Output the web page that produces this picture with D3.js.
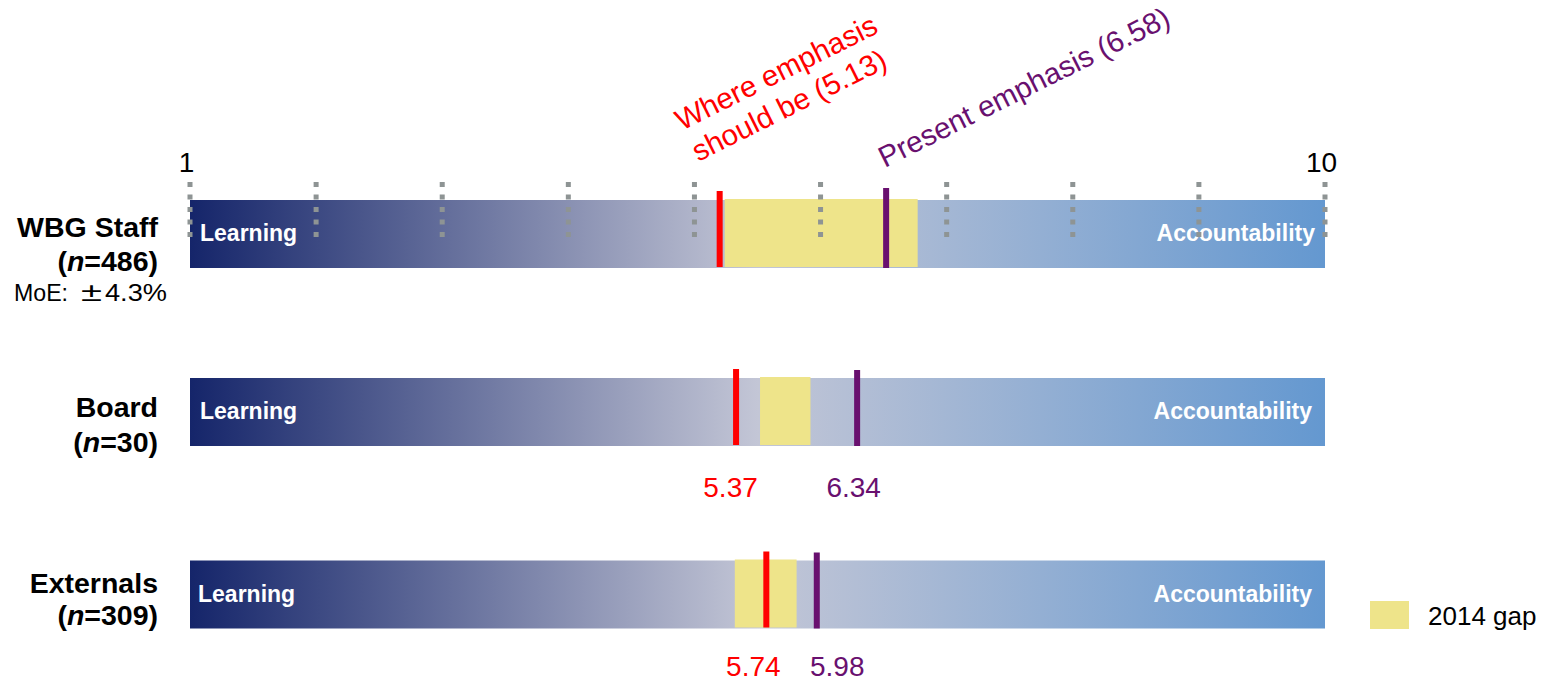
<!DOCTYPE html>
<html>
<head>
<meta charset="utf-8">
<script src="https://cdn.jsdelivr.net/npm/d3@7"></script>
<style>
  html, body { margin: 0; padding: 0; background: #ffffff; }
  svg { display: block; }
  text { font-family: "Liberation Sans", Arial, sans-serif; }
</style>
</head>
<body>
<svg id="chart" width="1543" height="683"></svg>
<script>
// ---------- data ----------
const categories     = ["WBG Staff", "Board", "Externals"];
const sampleSizes    = [486, 30, 309];
const moeText        = "4.3%";
const shouldBe       = [5.20, 5.33, 5.57];   // red marker positions
const presentEmph    = [6.52, 6.29, 5.97];   // purple marker positions
const shouldLabels   = ["5.13", "5.37", "5.74"];
const presentLabels  = ["6.58", "6.34", "5.98"];
const gap2014Start   = [5.24, 5.52, 5.32];
const gap2014End     = [6.77, 5.92, 5.81];
const gridTicks      = [1, 2, 3, 4, 5, 6, 7, 8, 9, 10];
const axisTickLabels = [1, 10];
const poleLabels     = ["Learning", "Accountability"];
const legendLabel    = "2014 gap";

// ---------- styles / layout ----------
const RED = "#ff0000", PURPLE = "#69106f", GAP = "#eee48a", GRID = "#8e9494";
const barH = 68;
const labelNudge = { should: [0, -5.5, -13], present: [0, -3.5, 20.5] };
const rowLabelDy = [3, 5, -2];
const rowLabelGap = [34, 35, 32];

const svg = d3.select("#chart");
const x = d3.scaleLinear().domain([1, 10]).range([190, 1325]);
const y = d3.scaleOrdinal().domain(categories).range([234, 412, 594.5]);

const rows = categories.map((c, i) => ({
  cat: c, n: sampleSizes[i], should: shouldBe[i], present: presentEmph[i],
  sLab: shouldLabels[i], pLab: presentLabels[i], g0: gap2014Start[i], g1: gap2014End[i], i
}));

// gradient
const defs = svg.append("defs");
const grad = defs.append("linearGradient").attr("id", "barGrad")
  .attr("gradientUnits", "userSpaceOnUse")
  .attr("x1", x(1)).attr("x2", x(10)).attr("y1", 0).attr("y2", 0);
grad.append("stop").attr("offset", "0").attr("stop-color", "#15256a");
grad.append("stop").attr("offset", "0.5").attr("stop-color", "#c3c6d6");
grad.append("stop").attr("offset", "1").attr("stop-color", "#6498d0");

// bars
svg.append("g").selectAll("rect").data(rows).join("rect")
  .attr("x", x(1)).attr("width", x(10) - x(1))
  .attr("y", d => y(d.cat) - barH / 2).attr("height", barH)
  .attr("fill", "url(#barGrad)");

// pole labels
const pole = svg.append("g").attr("font-weight", "bold").attr("font-size", 23).attr("fill", "#ffffff");
pole.selectAll("text.l").data(rows).join("text").attr("class", "l")
  .attr("x", d => x(1) + (d.i === 2 ? 8 : 10)).attr("y", d => y(d.cat) + 7).text(poleLabels[0]);
pole.selectAll("text.r").data(rows).join("text").attr("class", "r")
  .attr("text-anchor", "end")
  .attr("x", d => x(10) - (d.i === 0 ? 10 : 13)).attr("y", d => y(d.cat) + 7).text(poleLabels[1]);

// 2014 gap boxes
svg.append("g").selectAll("rect").data(rows).join("rect")
  .attr("x", d => x(d.g0)).attr("width", d => x(d.g1) - x(d.g0))
  .attr("y", d => y(d.cat) - barH / 2 - 1).attr("height", barH)
  .attr("fill", GAP);

// markers
const mW = 6;
svg.append("g").selectAll("rect").data(rows).join("rect")
  .attr("x", d => x(d.should) - mW / 2).attr("width", mW)
  .attr("y", d => y(d.cat) - barH / 2 - 9).attr("height", barH + 8)
  .attr("fill", RED);
svg.append("g").selectAll("rect").data(rows).join("rect")
  .attr("x", d => x(d.present) - mW / 2).attr("width", mW)
  .attr("y", d => y(d.cat) - barH / 2 - (d.i === 0 ? 12 : 8)).attr("height", d => barH + (d.i === 0 ? 12 : 8))
  .attr("fill", PURPLE);

// dotted grid (top bar only)
const topCat = categories[0];
svg.append("g").selectAll("line").data(gridTicks).join("line")
  .attr("x1", d => x(d)).attr("x2", d => x(d))
  .attr("y1", y(topCat) - 52).attr("y2", y(topCat) + 4)
  .attr("stroke", GRID).attr("stroke-width", 5)
  .attr("stroke-dasharray", "5 7.5");

// axis end labels
const axis = d3.axisTop(x).tickValues(axisTickLabels).tickSize(0).tickPadding(0).tickFormat(d3.format("d"));
const ag = svg.append("g").attr("transform", "translate(-4,171.5)").call(axis);
ag.select(".domain").remove();
ag.selectAll("text").attr("font-size", 28).attr("fill", "#000")
  .attr("font-family", "'Liberation Sans', Arial, sans-serif");

// rotated top labels (first row)
const r0 = rows[0];
const ROT = -26.5;
const sg = svg.append("g")
  .attr("transform", `translate(${x(r0.should) - 38},131) rotate(${ROT})`)
  .attr("fill", RED).attr("font-size", 29.5);
sg.append("text").attr("x", 0).attr("y", 0).text("Where emphasis");
sg.append("text").attr("x", 1).attr("y", 35).text(`should be (${r0.sLab})`);
svg.append("text")
  .attr("transform", `translate(${x(r0.present) - 1.5},168) rotate(${ROT})`)
  .attr("fill", PURPLE).attr("font-size", 29.5)
  .text(`Present emphasis (${r0.pLab})`);

// value labels below other rows
const vl = svg.append("g").attr("font-size", 28).attr("text-anchor", "middle");
const vy = d => Math.min(y(d.cat) + 85, 676);
vl.selectAll("text.s").data(rows.slice(1)).join("text").attr("class", "s")
  .attr("x", d => x(d.should) + labelNudge.should[d.i])
  .attr("y", vy).attr("fill", RED).text(d => d.sLab);
vl.selectAll("text.p").data(rows.slice(1)).join("text").attr("class", "p")
  .attr("x", d => x(d.present) + labelNudge.present[d.i])
  .attr("y", vy).attr("fill", PURPLE).text(d => d.pLab);

// row labels
const rl = svg.append("g").attr("font-weight", "bold").attr("font-size", 28.5).attr("text-anchor", "end").attr("fill", "#000");
rl.selectAll("text.c").data(rows).join("text").attr("class", "c")
  .attr("x", 158).attr("y", d => y(d.cat) + rowLabelDy[d.i]).text(d => d.cat);
const nl = rl.selectAll("text.n").data(rows).join("text").attr("class", "n")
  .attr("x", 158).attr("y", d => y(d.cat) + rowLabelDy[d.i] + rowLabelGap[d.i]);
nl.append("tspan").text("(");
nl.append("tspan").attr("font-style", "italic").text("n");
nl.append("tspan").text(d => "=" + d.n + ")");

// MoE line
const moe = svg.append("text").attr("y", y(topCat) + 67).attr("font-size", 23).attr("fill", "#000");
moe.append("tspan").attr("x", 14).attr("textLength", 54).attr("lengthAdjust", "spacingAndGlyphs").text("MoE:");
moe.append("tspan").attr("x", 81).attr("font-size", 25).attr("textLength", 21).attr("lengthAdjust", "spacingAndGlyphs").text("±");
moe.append("tspan").attr("x", 105).attr("textLength", 62).attr("lengthAdjust", "spacingAndGlyphs").text(moeText);

// legend
const lg = svg.append("g");
lg.append("rect").attr("x", 1370).attr("y", 601).attr("width", 39).attr("height", 28).attr("fill", GAP);
lg.append("text").attr("x", 1428).attr("y", 625).attr("font-size", 26).attr("fill", "#000").text(legendLabel);
</script>
</body>
</html>
